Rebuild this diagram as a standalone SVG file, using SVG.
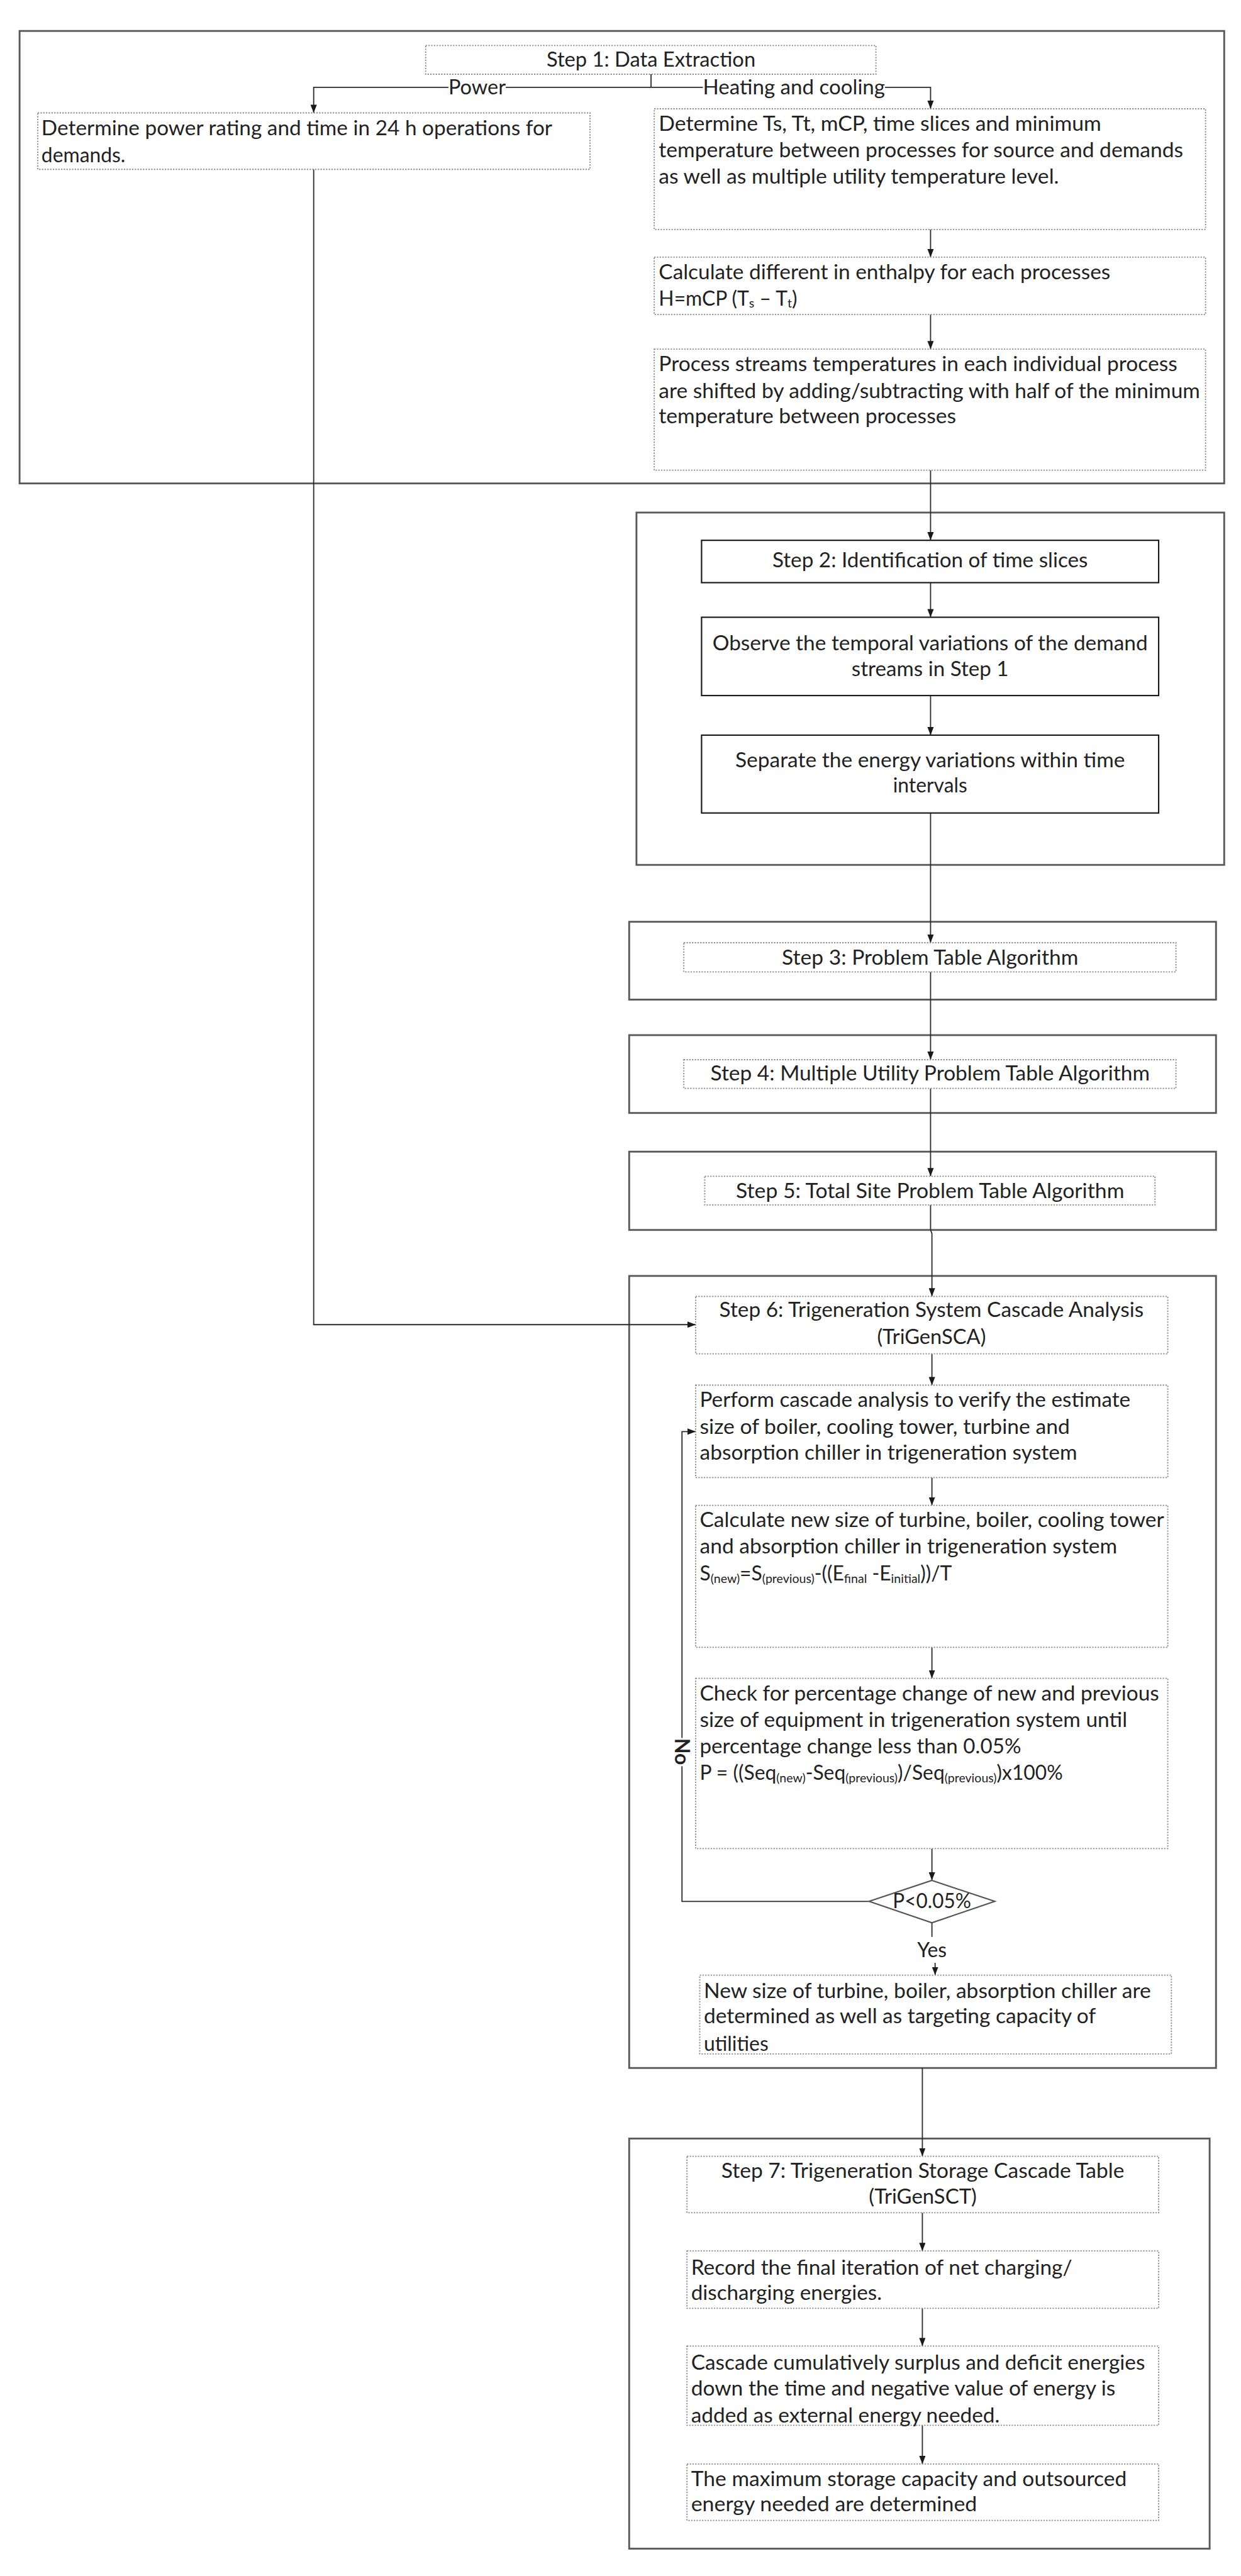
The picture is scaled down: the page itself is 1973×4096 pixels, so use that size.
<svg xmlns="http://www.w3.org/2000/svg" width="1973" height="4096" viewBox="0 0 1973 4096">
<defs>
<style>
.t{font-family:Lato,'Liberation Sans',sans-serif;font-size:44px;fill:#222}
.c{text-anchor:middle}
.sub{font-size:27px}
.outer{fill:none;stroke:#5a5a5a;stroke-width:4}
.solid{fill:#fff;stroke:#1a1a1a;stroke-width:3}
.dot{fill:#fff;stroke:#8a8a8a;stroke-width:2.5;stroke-dasharray:3 3}
.dia{fill:#fff;stroke:#555;stroke-width:3}
.con{fill:none;stroke:#2a2a2a;stroke-width:2.5}
.arr{marker-end:url(#ah)}
</style>
<marker id="ah" viewBox="0 0 18 14" markerWidth="18" markerHeight="14" refX="18" refY="7" orient="auto" markerUnits="userSpaceOnUse">
<path d="M0,0 L18,7 L0,14 z" fill="#1a1a1a"/>
</marker>
</defs>
<rect x="0" y="0" width="1973" height="4096" fill="#fff"/>
<g transform="scale(0.7238)">
<g id="frames">
<rect id="frame1" class="outer" x="43" y="68" width="2646" height="994"/>
<rect id="frame2" class="outer" x="1398" y="1126" width="1291" height="774"/>
<rect id="frame3" class="outer" x="1382" y="2025" width="1289" height="171"/>
<rect id="frame4" class="outer" x="1382" y="2274" width="1289" height="171"/>
<rect id="frame5" class="outer" x="1382" y="2530" width="1289" height="172"/>
<rect id="frame6" class="outer" x="1382" y="2803" width="1289" height="1740"/>
<rect id="frame7" class="outer" x="1382" y="4698" width="1275" height="901"/>
</g>
<g id="connectors">
<path class="con" d="M1430,163 V192"/>
<path class="con" d="M1430,192 H1111"/>
<path class="con arr" d="M985,192 H689 V248"/>
<path class="con" d="M1430,192 H1544"/>
<path class="con arr" d="M1944,192 H2044 V239"/>
<path class="con arr" d="M2044,504 V565"/>
<path class="con arr" d="M2044,691 V767"/>
<path class="con arr" d="M2044,1033 V1187"/>
<path class="con arr" d="M2044,1280 V1356"/>
<path class="con arr" d="M2044,1528 V1615"/>
<path class="con arr" d="M2044,1786 V2071"/>
<path class="con arr" d="M2044,2135 V2328"/>
<path class="con arr" d="M2044,2391 V2584"/>
<path class="con arr" d="M2044,2647 V2702 L2047,2710 V2848"/>
<path class="con arr" d="M689,372 V2910 H1528"/>
<path class="con arr" d="M2047,2974 V3043"/>
<path class="con arr" d="M2047,3246 V3307"/>
<path class="con arr" d="M2047,3619 V3687"/>
<path class="con arr" d="M2047,4061 V4131"/>
<path class="con arr" d="M1909,4177 H1498 V3145 H1528"/>
<path class="con" d="M2047,4224 V4255"/>
<path class="con arr" d="M2054,4312 V4339"/>
<path class="con arr" d="M2026,4543 V4737"/>
<path class="con arr" d="M2026,4861 V4945"/>
<path class="con arr" d="M2026,5071 V5154"/>
<path class="con arr" d="M2026,5328 V5413"/>
<text class="t c" x="1048" y="207" textLength="126" lengthAdjust="spacingAndGlyphs">Power</text>
<text class="t c" x="1744" y="207" textLength="400" lengthAdjust="spacingAndGlyphs">Heating and cooling</text>
<rect x="1478" y="3818" width="40" height="62" fill="#fff"/>
<text class="t c" font-weight="bold" transform="translate(1498,3848) rotate(90)" dy="15">No</text>
<text class="t c" x="2047" y="4300">Yes</text>
</g>
<g id="step1">
<rect class="dot" x="935" y="100" width="989" height="63"/>
<text class="t c" x="1430" y="147" textLength="459" lengthAdjust="spacingAndGlyphs">Step 1: Data Extraction</text>
</g>
<g id="power">
<rect class="dot" x="83" y="248" width="1213" height="124"/>
<text class="t" x="91" y="297" textLength="1122" lengthAdjust="spacingAndGlyphs">Determine power rating and time in 24 h operations for</text>
<text class="t" x="91" y="357">demands.</text>
</g>
<g id="heat1">
<rect class="dot" x="1437" y="239" width="1211" height="265"/>
<text class="t" x="1447" y="287" textLength="972" lengthAdjust="spacingAndGlyphs">Determine Ts, Tt, mCP, time slices and minimum</text>
<text class="t" x="1447" y="345" textLength="1152" lengthAdjust="spacingAndGlyphs">temperature between processes for source and demands</text>
<text class="t" x="1447" y="403" textLength="879" lengthAdjust="spacingAndGlyphs">as well as multiple utility temperature level.</text>
</g>
<g id="heat2">
<rect class="dot" x="1437" y="565" width="1211" height="126"/>
<text class="t" x="1447" y="613" textLength="992" lengthAdjust="spacingAndGlyphs">Calculate different in enthalpy for each processes</text>
<text class="t" x="1447" y="671">H=mCP (T<tspan class="sub" dy="5">s</tspan><tspan dy="-5"> – T</tspan><tspan class="sub" dy="5">t</tspan><tspan dy="-5">)</tspan></text>
</g>
<g id="heat3">
<rect class="dot" x="1437" y="767" width="1211" height="266"/>
<text class="t" x="1447" y="815" textLength="1139" lengthAdjust="spacingAndGlyphs">Process streams temperatures in each individual process</text>
<text class="t" x="1447" y="874" textLength="1189" lengthAdjust="spacingAndGlyphs">are shifted by adding/subtracting with half of the minimum</text>
<text class="t" x="1447" y="930" textLength="653" lengthAdjust="spacingAndGlyphs">temperature between processes</text>
</g>
<g id="step2">
<rect class="solid" x="1541" y="1187" width="1004" height="93"/>
<text class="t c" x="2043" y="1246" textLength="693" lengthAdjust="spacingAndGlyphs">Step 2: Identification of time slices</text>
</g>
<g id="observe">
<rect class="solid" x="1541" y="1356" width="1004" height="172"/>
<text class="t c" x="2043" y="1428" textLength="956" lengthAdjust="spacingAndGlyphs">Observe the temporal variations of the demand</text>
<text class="t c" x="2043" y="1485" textLength="345" lengthAdjust="spacingAndGlyphs">streams in Step 1</text>
</g>
<g id="separate">
<rect class="solid" x="1541" y="1615" width="1004" height="171"/>
<text class="t c" x="2043" y="1685" textLength="856" lengthAdjust="spacingAndGlyphs">Separate the energy variations within time</text>
<text class="t c" x="2043" y="1741">intervals</text>
</g>
<g id="step3">
<rect class="dot" x="1502" y="2071" width="1081" height="64"/>
<text class="t c" x="2043" y="2119" textLength="651" lengthAdjust="spacingAndGlyphs">Step 3: Problem Table Algorithm</text>
</g>
<g id="step4">
<rect class="dot" x="1502" y="2328" width="1081" height="63"/>
<text class="t c" x="2043" y="2374" textLength="965" lengthAdjust="spacingAndGlyphs">Step 4: Multiple Utility Problem Table Algorithm</text>
</g>
<g id="step5">
<rect class="dot" x="1548" y="2584" width="989" height="63"/>
<text class="t c" x="2043" y="2632" textLength="853" lengthAdjust="spacingAndGlyphs">Step 5: Total Site Problem Table Algorithm</text>
</g>
<g id="step6">
<rect class="dot" x="1528" y="2848" width="1037" height="126"/>
<text class="t c" x="2046" y="2893" textLength="932" lengthAdjust="spacingAndGlyphs">Step 6: Trigeneration System Cascade Analysis</text>
<text class="t c" x="2046" y="2952" textLength="239" lengthAdjust="spacingAndGlyphs">(TriGenSCA)</text>
</g>
<g id="perform">
<rect class="dot" x="1528" y="3043" width="1037" height="203"/>
<text class="t" x="1537" y="3091" textLength="946" lengthAdjust="spacingAndGlyphs">Perform cascade analysis to verify the estimate</text>
<text class="t" x="1537" y="3150" textLength="813" lengthAdjust="spacingAndGlyphs">size of boiler, cooling tower, turbine and</text>
<text class="t" x="1537" y="3207" textLength="829" lengthAdjust="spacingAndGlyphs">absorption chiller in trigeneration system</text>
</g>
<g id="calculate">
<rect class="dot" x="1528" y="3307" width="1037" height="312"/>
<text class="t" x="1537" y="3354" textLength="1020" lengthAdjust="spacingAndGlyphs">Calculate new size of turbine, boiler, cooling tower</text>
<text class="t" x="1537" y="3413" textLength="917" lengthAdjust="spacingAndGlyphs">and absorption chiller in trigeneration system</text>
<text class="t" x="1537" y="3472">S<tspan class="sub" dy="5">(new)</tspan><tspan dy="-5">=S</tspan><tspan class="sub" dy="5">(previous)</tspan><tspan dy="-5">-((E</tspan><tspan class="sub" dy="5">final</tspan><tspan dy="-5"> -E</tspan><tspan class="sub" dy="5">initial</tspan><tspan dy="-5">))/T</tspan></text>
</g>
<g id="check">
<rect class="dot" x="1528" y="3687" width="1037" height="374"/>
<text class="t" x="1537" y="3736" textLength="1009" lengthAdjust="spacingAndGlyphs">Check for percentage change of new and previous</text>
<text class="t" x="1537" y="3794" textLength="939" lengthAdjust="spacingAndGlyphs">size of equipment in trigeneration system until</text>
<text class="t" x="1537" y="3852" textLength="706" lengthAdjust="spacingAndGlyphs">percentage change less than 0.05%</text>
<text class="t" x="1537" y="3910">P = ((Seq<tspan class="sub" dy="5">(new)</tspan><tspan dy="-5">-Seq</tspan><tspan class="sub" dy="5">(previous)</tspan><tspan dy="-5">)/Seq</tspan><tspan class="sub" dy="5">(previous)</tspan><tspan dy="-5">)x100%</tspan></text>
</g>
<g id="decision">
<path class="dia" d="M2047,4131 L2185,4177 L2047,4224 L1909,4177 z"/>
<text class="t c" x="2047" y="4192" textLength="172" lengthAdjust="spacingAndGlyphs">P&lt;0.05%</text>
</g>
<g id="newsize">
<rect class="dot" x="1537" y="4339" width="1036" height="173"/>
<text class="t" x="1546" y="4389" textLength="982" lengthAdjust="spacingAndGlyphs">New size of turbine, boiler, absorption chiller are</text>
<text class="t" x="1546" y="4445" textLength="861" lengthAdjust="spacingAndGlyphs">determined as well as targeting capacity of</text>
<text class="t" x="1546" y="4505">utilities</text>
</g>
<g id="step7">
<rect class="dot" x="1509" y="4737" width="1036" height="124"/>
<text class="t c" x="2027" y="4784" textLength="885" lengthAdjust="spacingAndGlyphs">Step 7: Trigeneration Storage Cascade Table</text>
<text class="t c" x="2027" y="4841" textLength="237" lengthAdjust="spacingAndGlyphs">(TriGenSCT)</text>
</g>
<g id="record">
<rect class="dot" x="1509" y="4945" width="1036" height="126"/>
<text class="t" x="1518" y="4997" textLength="837" lengthAdjust="spacingAndGlyphs">Record the final iteration of net charging/</text>
<text class="t" x="1518" y="5052" textLength="419" lengthAdjust="spacingAndGlyphs">discharging energies.</text>
</g>
<g id="cascade">
<rect class="dot" x="1509" y="5154" width="1036" height="174"/>
<text class="t" x="1518" y="5206" textLength="997" lengthAdjust="spacingAndGlyphs">Cascade cumulatively surplus and deficit energies</text>
<text class="t" x="1518" y="5263" textLength="932" lengthAdjust="spacingAndGlyphs">down the time and negative value of energy is</text>
<text class="t" x="1518" y="5322" textLength="678" lengthAdjust="spacingAndGlyphs">added as external energy needed.</text>
</g>
<g id="maximum">
<rect class="dot" x="1509" y="5413" width="1036" height="124"/>
<text class="t" x="1518" y="5461" textLength="957" lengthAdjust="spacingAndGlyphs">The maximum storage capacity and outsourced</text>
<text class="t" x="1518" y="5517" textLength="628" lengthAdjust="spacingAndGlyphs">energy needed are determined</text>
</g>
</g>
</svg>
